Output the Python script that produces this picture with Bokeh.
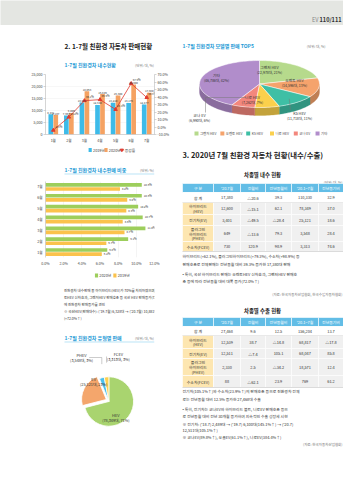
import math
from bokeh.plotting import figure
from bokeh.models import (Range1d, LinearAxis, ColumnDataSource,
                          FactorRange, PrintfTickFormatter, NumeralTickFormatter, FixedTicker)
from bokeh.transform import dodge
from bokeh.layouts import column, row
from bokeh.embed import file_html
from bokeh.resources import INLINE
from bokeh.core.properties import value

FONT = "Noto Sans CJK KR"
F = value(FONT)

# ---------------- data ----------------
months = ["1월", "2월", "3월", "4월", "5월", "6월", "7월"]
sales_2019 = [8471, 7957, 13371, 12340, 13210, 13175, 12477]
sales_2020 = [8107, 9006, 18063, 16846, 16300, 20800, 17380]
growth = [-4.3, 13.2, 35.1, 36.5, 23.4, 57.9, 39.3]
sales_labels = ["2019년", "2020년", "증감률"]

share_2020 = [6.8, 9.1, 11.0, 10.7, 10.2, 10.6, 10.6]
share_2019 = [6.2, 6.7, 8.7, 8.5, 8.9, 9.0, 8.2]
share_labels = ["2020년", "2019년"]

type_names = ["HEV", "EV", "PHEV", "FCEV"]
type_sales = [78349, 25121, 3548, 3313]
type_pct = [71, 23, 3, 3]

model_names = ["그랜저 HEV", "쏘렌토 HEV", "K5 HEV", "니로 HEV", "코나 EV", "기타"]
model_sales = [22978, 14596, 11718, 7262, 6990, 46786]
model_pct = [21, 13, 11, 7, 6, 42]

tbl_header = ["구 분", "'20.7월", "전월비", "전년동월비", "'20.1~7월", "전년동기비"]
tbl_types = ["합 계", "하이브리드\n(HEV)", "전기차(EV)", "플러그인\n하이브리드\n(PHEV)", "수소차(FCEV)"]

dom_jul = ["17,380", "12,600", "3,401", "649", "730"]
dom_mom = ["△20.6", "△15.1", "△49.5", "△13.6", "120.9"]
dom_yoy = ["39.3", "62.1", "△28.4", "79.3", "98.9"]
dom_ytd = ["110,330", "78,349", "25,121", "3,548", "3,313"]
dom_ytd_yoy = ["32.9", "37.0", "18.6", "28.4", "74.6"]

exp_jul = ["27,468", "12,539", "12,511", "2,330", "88"]
exp_mom = ["9.6", "38.7", "△7.4", "2.5", "△62.1"]
exp_yoy = ["12.5", "△14.8", "105.1", "△34.2", "23.9"]
exp_ytd = ["156,204", "68,817", "68,047", "18,571", "769"]
exp_ytd_yoy = ["13.7", "△17.8", "85.8", "12.4", "61.2"]

# ---------------- styles ----------------
BLUE = "#3dbbe9"
ORANGE = "#f5a262"
RED = "#e03a2f"
GREEN = "#9dce5c"
YELLOW = "#fbc24c"
SUB = "#1e9ad6"
HDR_BG = "#e4e6e2"
TH = "#62bde6"
CAT = "#fde6b0"
CELL = "#f0f0f0"
TYPE_COLORS = ["#a9d46f", "#f4a66c", "#4cc0ec", "#fdd04f"]
MODEL_COLORS = ["#b6da8c", "#f5a36c", "#3ebfa5", "#fbd04c", "#f3877d", "#b18dcb"]
LW, RW = 172, 171


def canvas(w, h, bg="white", flip=True):
    yr = Range1d(h, 0) if flip else Range1d(0, h)
    p = figure(width=w, height=h, x_range=Range1d(0, w), y_range=yr,
               toolbar_location=None, output_backend="svg", min_border=0,
               x_axis_type=None, y_axis_type=None)
    p.outline_line_color = None
    p.background_fill_color = bg
    p.border_fill_color = bg
    return p


def txt(p, x, y, s, size, color="#333333", bold=False, align="left", baseline="middle"):
    p.text(x=[x], y=[y], text=[s], text_font=F, text_font_size=f"{size}px",
           text_color=color, text_font_style="bold" if bold else "normal",
           text_align=align, text_baseline=baseline)


def style_axis(ax, size="3.6px"):
    ax.major_label_text_font = FONT
    ax.major_label_text_font_size = size
    ax.major_label_text_color = "#444444"
    ax.axis_line_color = "#aaaaaa"
    ax.axis_line_width = 0.5
    ax.major_tick_line_color = "#aaaaaa"
    ax.major_tick_line_width = 0.5
    ax.major_tick_in = 0
    ax.major_tick_out = 2
    ax.minor_tick_line_color = None
    ax.major_label_standoff = 1


def darker(c, f=0.78):
    r, g, b = int(c[1:3], 16), int(c[3:5], 16), int(c[5:7], 16)
    return "#%02x%02x%02x" % (int(r * f), int(g * f), int(b * f))


# ---------------- header ----------------
hdr = canvas(343, 25, bg=HDR_BG)
txt(hdr, 341, 19.5, "110/111", 5.6, "#333333", bold=True, align="right")
txt(hdr, 318, 19.5, "EV", 5.6, "#888888", align="right")

# ---------------- left column ----------------
lt1 = canvas(LW, 46)
txt(lt1, 30, 20, "2. 1-7월 친환경 자동차 판매현황", 6.5, "#222222", bold=True)
txt(lt1, 30, 39, "1-7월 친환경차 내수현황", 5.0, SUB, bold=True)
txt(lt1, 171, 39.5, "(단위: 대, %)", 3.5, "#777777", align="right")

# bar + line chart
src1 = ColumnDataSource(dict(
    m=months, s19=sales_2019, s20=sales_2020, g=growth,
    l19=[f"{v:,}" for v in sales_2019], l20=[f"{v:,}" for v in sales_2020],
    lg=[f"{v:.1f}%" for v in growth]))
c1 = figure(width=LW, height=74, x_range=FactorRange(*months), y_range=Range1d(0, 25000),
            toolbar_location=None, output_backend="svg",
            min_border_left=38, min_border_right=17, min_border_top=3, min_border_bottom=10)
c1.outline_line_color = None
c1.extra_y_ranges = {"pct": Range1d(-10, 70)}
c1.x_range.range_padding = 0
c1.xgrid.grid_line_color = None
c1.ygrid.grid_line_color = "#eeeeee"
c1.ygrid.grid_line_width = 0.5
c1.vbar(x=dodge("m", -0.16, range=c1.x_range), top="s19", width=0.3, source=src1,
        fill_color=BLUE, line_color=None)
c1.vbar(x=dodge("m", 0.16, range=c1.x_range), top="s20", width=0.3, source=src1,
        fill_color=ORANGE, line_color=None)
c1.line(x="m", y="g", source=src1, y_range_name="pct", line_color=RED, line_width=0.8)
c1.scatter(x="m", y="g", source=src1, y_range_name="pct", marker="triangle",
           size=3.5, fill_color=RED, line_color=RED)
c1.text(x=dodge("m", -0.16, range=c1.x_range), y="s19", text="l19", source=src1,
        text_font=F, text_font_size="2.8px", text_color="#333333", text_align="center",
        text_baseline="bottom", y_offset=-0.5)
c1.text(x=dodge("m", 0.16, range=c1.x_range), y="s20", text="l20", source=src1,
        text_font=F, text_font_size="2.8px", text_color="#333333", text_align="center",
        text_baseline="bottom", y_offset=-0.5)
c1.text(x="m", y="g", text="lg", source=src1, y_range_name="pct",
        text_font=F, text_font_size="2.8px", text_color="#333333", text_align="left",
        text_baseline="bottom", x_offset=1.5, y_offset=-1.5)
c1.yaxis.ticker = FixedTicker(ticks=[0, 5000, 10000, 15000, 20000, 25000])
c1.yaxis.formatter = NumeralTickFormatter(format="0,0")
axr = LinearAxis(y_range_name="pct", ticker=FixedTicker(ticks=list(range(-10, 71, 10))),
                 formatter=PrintfTickFormatter(format="%.1f%%"))
c1.add_layout(axr, "right")
for ax in c1.axis:
    style_axis(ax)
c1.xaxis.major_tick_line_color = None

# legend of the sales chart + next subtitle
lt2 = canvas(LW, 31)
for k, (lab, col) in enumerate(zip(sales_labels, [BLUE, ORANGE, RED])):
    lx = 68 + k * 25
    if k < 2:
        lt2.quad(left=[lx], right=[lx + 5], top=[2.5], bottom=[6.5], fill_color=col,
                 line_color=None)
    else:
        lt2.line(x=[lx - 1, lx + 6], y=[4.5, 4.5], line_color=col, line_width=0.8)
        lt2.scatter(x=[lx + 2.5], y=[4.5], marker="inverted_triangle", size=3,
                    fill_color=col, line_color=col)
    txt(lt2, lx + 7, 4.5, lab, 3.8, "#444444")
txt(lt2, 30, 24, "1-7월 친환경차 내수판매 비중", 5.0, SUB, bold=True)
txt(lt2, 171, 24.5, "(단위: %)", 3.5, "#777777", align="right")
lt2.line(x=[30, 172], y=[28.5, 28.5], line_color="#9fd8f2", line_width=0.7)

# horizontal bars
src2 = ColumnDataSource(dict(m=months, a=share_2020, b=share_2019,
                             la=[f"{v:.1f}%" for v in share_2020],
                             lb=[f"{v:.1f}%" for v in share_2019]))
c2 = figure(width=LW, height=92, x_range=Range1d(0, 12), y_range=FactorRange(*months),
            toolbar_location=None, output_backend="svg",
            min_border_left=45, min_border_right=12, min_border_top=5, min_border_bottom=9)
c2.outline_line_color = None
c2.y_range.range_padding = 0
c2.ygrid.grid_line_color = None
c2.xgrid.grid_line_color = "#e8e8e8"
c2.xgrid.grid_line_width = 0.5
c2.hbar(y=dodge("m", 0.19, range=c2.y_range), right="a", height=0.34, source=src2,
        fill_color=GREEN, line_color=None)
c2.hbar(y=dodge("m", -0.19, range=c2.y_range), right="b", height=0.34, source=src2,
        fill_color=YELLOW, line_color=None)
c2.text(x="a", y=dodge("m", 0.19, range=c2.y_range), text="la", source=src2, text_font=F,
        text_font_size="2.8px", text_color="#333333", text_baseline="middle", x_offset=2)
c2.text(x="b", y=dodge("m", -0.19, range=c2.y_range), text="lb", source=src2, text_font=F,
        text_font_size="2.8px", text_color="#333333", text_baseline="middle", x_offset=2)
c2.xaxis.ticker = FixedTicker(ticks=[0, 2, 4, 6, 8, 10, 12])
c2.xaxis.formatter = PrintfTickFormatter(format="%.1f%%")
for ax in c2.axis:
    style_axis(ax)
c2.yaxis.major_tick_line_color = None
c2.xaxis.axis_line_color = None
c2.xaxis.major_tick_line_color = None

# legend of the share chart + paragraph + next subtitle
lt3 = canvas(LW, 77)
for k, (lab, col) in enumerate(zip(share_labels, [GREEN, YELLOW])):
    lx = 78 + k * 29
    lt3.quad(left=[lx], right=[lx + 5], top=[5], bottom=[9], fill_color=col, line_color=None)
    txt(lt3, lx + 7, 7, lab, 3.8, "#444444")
para1 = ["친환경차 내수판매 중 하이브리드(HEV)가 70%를 차지하였으며, 특히 쏘렌",
         "토HEV 신차효과, 그랜저HEV 판매호조 등 국산 HEV 판매증가(72.0%↑)",
         "에 친환경차 판매증가를 견인",
         "※ 국산HEV(판매대수): ('19.7월) 6,328대 → ('20.7월) 10,881대",
         "   (+72.0%↑)"]
for i, s in enumerate(para1):
    txt(lt3, 29, 21.7 + i * 7.1, s, 3.5, "#333333")
txt(lt3, 30, 69, "1-7월 친환경차 유형별 판매", 5.0, SUB, bold=True)
txt(lt3, 171, 69.5, "(단위: 대, %)", 3.5, "#777777", align="right")
lt3.line(x=[30, 172], y=[73.5, 73.5], line_color="#9fd8f2", line_width=0.7)

# pie of types
lp = canvas(LW, 119, flip=False)
PCX, PCY, PR = 100, 63, 39
tot = sum(type_sales)
cum = 0
pa0, pa1, pcx, pcy = [], [], [], []
for nm, v in zip(type_names, type_sales):
    f0 = cum / tot
    cum += v
    f1 = cum / tot
    a0 = math.pi / 2 - 2 * math.pi * f1
    a1 = math.pi / 2 - 2 * math.pi * f0
    mid = (a0 + a1) / 2
    off = 4.5 if nm == "EV" else 0
    pa0.append(a0)
    pa1.append(a1)
    pcx.append(PCX + off * math.cos(mid))
    pcy.append(PCY + off * math.sin(mid))
lp.wedge(x="x", y="y", radius=PR, start_angle="a0", end_angle="a1", fill_color="c",
         line_color="white", line_width=0.8,
         source=ColumnDataSource(dict(x=pcx, y=pcy, a0=pa0, a1=pa1, c=TYPE_COLORS)))
type_lab_pos = [(111, 50), (76, 86), (57, 110), (115, 111)]
for nm, v, pc, (lx, ly) in zip(type_names, type_sales, type_pct, type_lab_pos):
    txt(lp, lx, ly, nm, 4.0, "#333333", align="center")
    txt(lp, lx, ly - 5.6, f"({v:,}대, {pc}%)", 3.8, "#333333", align="center")
for i, (ex, ey) in ((2, (69, 107)), (3, (103, 108))):
    mid = (pa0[i] + pa1[i]) / 2
    sx, sy = pcx[i] + PR * math.cos(mid), pcy[i] + PR * math.sin(mid)
    if i == 2:
        lp.line(x=[ex, sx, sx], y=[ey, ey, sy], line_color="#999999", line_width=0.5)
    else:
        lp.line(x=[sx, sx], y=[sy, ey], line_color="#999999", line_width=0.5)

left = column(lt1, c1, lt2, c2, lt3, lp, spacing=0)

# ---------------- right column ----------------
rt1 = canvas(RW, 29)
txt(rt1, 10, 20, "1-7월 친환경차 모델별 판매 TOP5", 5.0, SUB, bold=True)
txt(rt1, 153, 21, "(단위: 대, %)", 3.5, "#777777", align="right")

rp = canvas(RW, 88, flip=False)
CX, CY, RX, RY, DEP = 87, 58.5, 60, 23.5, 8
tot = sum(model_sales)
cum = 0
tops_x, tops_y, side_x, side_y, side_c, mids = [], [], [], [], [], []
for v, c in zip(model_sales, MODEL_COLORS):
    t0 = cum / tot
    cum += v
    t1 = cum / tot
    a_hi = math.pi / 2 - 2 * math.pi * t0
    a_lo = math.pi / 2 - 2 * math.pi * t1
    mids.append((a_hi + a_lo) / 2)
    n = max(4, int((a_hi - a_lo) * 30))
    th = [a_hi + (a_lo - a_hi) * k / n for k in range(n + 1)]
    tops_x.append([CX] + [CX + RX * math.cos(a) for a in th])
    tops_y.append([CY] + [CY + RY * math.sin(a) for a in th])
    lo, hi = max(a_lo, -math.pi), min(a_hi, 0)
    if hi > lo:
        m = max(3, int((hi - lo) * 30))
        th2 = [hi + (lo - hi) * k / m for k in range(m + 1)]
        xs = [CX + RX * math.cos(a) for a in th2]
        ys = [CY + RY * math.sin(a) for a in th2]
        side_x.append(xs + xs[::-1])
        side_y.append(ys + [y - DEP for y in ys[::-1]])
        side_c.append(darker(c))
rp.patches(side_x, side_y, fill_color=side_c, line_color=side_c, line_width=0.3)
rp.patches(xs="xs", ys="ys", fill_color="color", line_color="white", line_width=0.5,
           source=ColumnDataSource(dict(xs=tops_x, ys=tops_y, color=MODEL_COLORS)))
# legend of the model pie
lgx = 22
for nm, col in zip(model_names, MODEL_COLORS):
    rp.quad(left=[lgx], right=[lgx + 4], top=[11], bottom=[7], fill_color=col, line_color=None)
    txt(rp, lgx + 5.5, 9, nm, 3.4, "#444444")
    lgx += 8.5 + 2.05 * len(nm) + (3 if " " in nm else 0)
model_lab_pos = [(97, 75), (122, 62), (127, 29), (80, 45), (27, 27), (44, 67)]
for nm, v, pc, (lx, ly) in zip(model_names, model_sales, model_pct, model_lab_pos):
    txt(rp, lx, ly, nm, 3.8, "#333333", align="center")
    txt(rp, lx, ly - 4.6, f"({v:,}대, {pc}%)", 3.5, "#333333", align="center")
for i, (ex, ey) in ((2, (118, 32)), (4, (33, 45))):
    sx = CX + 0.8 * RX * math.cos(mids[i])
    sy = CY + 0.8 * RY * math.sin(mids[i])
    if i == 2:
        rp.line(x=[sx, ex], y=[sy, ey], line_color="#777777", line_width=0.5)
    else:
        rp.line(x=[sx, ex, ex], y=[ey, ey, 30], line_color="#777777", line_width=0.5)

rt2 = canvas(RW, 322)
txt(rt2, 10, 12, "3. 2020년 7월 친환경 자동차 현황(내수/수출)", 7.4, "#222222", bold=True)

EDGES = [10, 41, 68, 93, 119, 146, 171]


def draw_table(p, top, heights, cols):
    ys = [top]
    for h in heights:
        ys.append(ys[-1] + h)
    L, R, T, B, C = [], [], [], [], []
    tx, ty, tt, tc = [], [], [], []
    for j, name in enumerate(tbl_header):
        L.append(EDGES[j]); R.append(EDGES[j + 1]); T.append(ys[0]); B.append(ys[1]); C.append(TH)
        tx.append((EDGES[j] + EDGES[j + 1]) / 2); ty.append((ys[0] + ys[1]) / 2)
        tt.append(name); tc.append("white")
    for i, tname in enumerate(tbl_types):
        r0, r1 = ys[i + 1], ys[i + 2]
        L.append(EDGES[0]); R.append(EDGES[1]); T.append(r0); B.append(r1)
        C.append("#ffffff" if i == 0 else CAT)
        lines = tname.split("\n")
        for k, ln in enumerate(lines):
            tx.append((EDGES[0] + EDGES[1]) / 2)
            ty.append((r0 + r1) / 2 + (k - (len(lines) - 1) / 2) * 4.6)
            tt.append(ln); tc.append("#333333")
        for j, col in enumerate(cols):
            L.append(EDGES[j + 1]); R.append(EDGES[j + 2]); T.append(r0); B.append(r1)
            C.append("#ffffff" if i == 0 else CELL)
            tx.append((EDGES[j + 1] + EDGES[j + 2]) / 2); ty.append((r0 + r1) / 2)
            tt.append(col[i]); tc.append("#333333")
    p.quad(left=L, right=R, top=T, bottom=B, fill_color=C, line_color="#ffffff", line_width=0.6)
    p.line(x=[EDGES[0], EDGES[-1]], y=[ys[-1], ys[-1]], line_color="#bbbbbb", line_width=0.5)
    p.line(x=[EDGES[0], EDGES[-1]], y=[ys[2], ys[2]], line_color="#cccccc", line_width=0.4)
    p.text(x=tx, y=ty, text=tt, text_color=tc, text_font=F, text_font_size="3.9px",
           text_align="center", text_baseline="middle")


txt(rt2, 90, 32, "차종별 내수 현황", 5.4, "#222222", bold=True, align="center")
txt(rt2, 170, 40, "(단위: 대, %)", 3.5, "#777777", align="right")
draw_table(rt2, 41, [9, 10, 12, 11, 16, 10], [dom_jul, dom_mom, dom_yoy, dom_ytd, dom_ytd_yoy])
para2 = ["하이브리드(+62.1%), 플러그인하이브리드(+79.3%), 수소차(+98.9%) 등",
         "판매호조로 전체판매는 전년동월 대비 39.3% 증가한 17,380대 판매",
         "• 특히, 국산 하이브리드 판매는 쏘렌토HEV 신차효과, 그랜저HEV 판매호",
         "   조 등에 따라 전년동월 대비 대폭 증가(72.0%↑)"]
for s, y in zip(para2, [113, 121, 131, 138]):
    txt(rt2, 10, y, s, 3.9, "#333333")
txt(rt2, 170, 152, "(자료: 한국자동차산업협회, 한국수입자동차협회)", 3.5, "#777777", align="right")

txt(rt2, 90, 168, "차종별 수출 현황", 5.4, "#222222", bold=True, align="center")
draw_table(rt2, 175, [9, 9, 13, 10, 17, 12], [exp_jul, exp_mom, exp_yoy, exp_ytd, exp_ytd_yoy])
para3 = ["전기차(105.1%↑)와 수소차(23.9%↑)의 판매호조 등으로 친환경차 전체",
         "로는 전년동월 대비 12.5% 증가한 27,468대 수출",
         "• 특히, 전기차는 코나EV와 하이브리드 볼트, 니로EV 판매호조 등으",
         "   로 전년동월 대비 전년 30개월 증가하여 지속적인 수출 성장세 시현",
         "   ※ 전기차: ('18.7) 2,489대 → ('19.7) 6,100대(145.1%↑) → ('20.7)",
         "      12,511대(105.1%↑)",
         "   ※ 코나EV(89.8%↑), 쏘울EV(61.1%↑), 니로EV(384.4%↑)"]
for s, y in zip(para3, [248, 256, 266, 273, 281, 287, 294]):
    txt(rt2, 10, y, s, 3.9, "#333333")
txt(rt2, 170, 302, "(자료: 한국자동차산업협회)", 3.5, "#777777", align="right")

right = column(rt1, rp, rt2, spacing=0)

page = column(hdr, row(left, right, spacing=0), spacing=0)

open("out.html", "w").write(file_html(page, INLINE))
